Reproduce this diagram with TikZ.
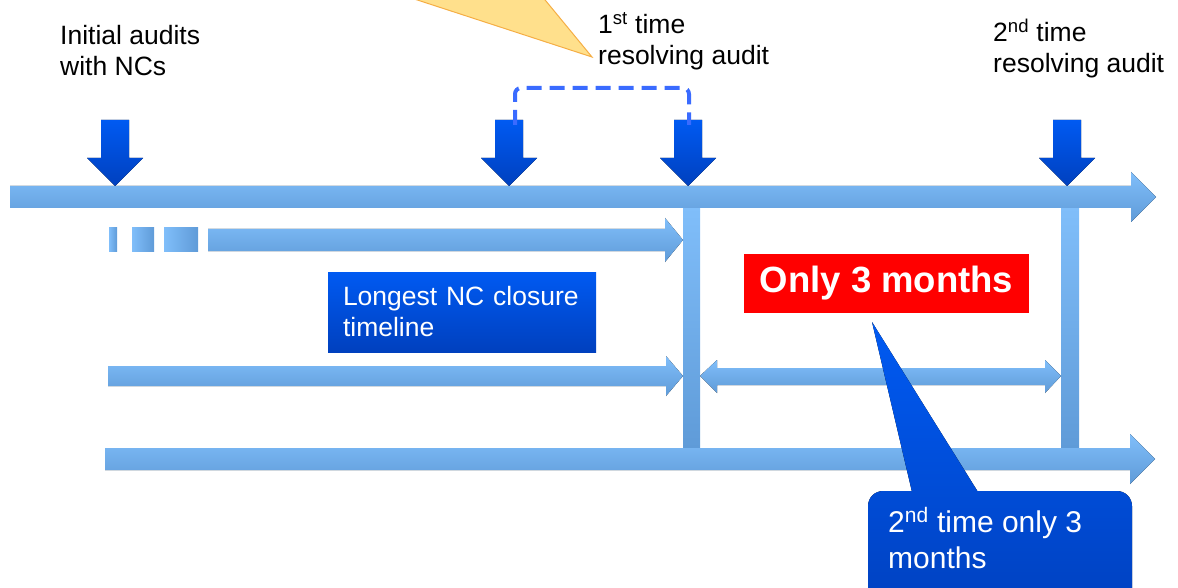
\documentclass[tikz,border=0pt]{standalone}
\usepackage{fontspec}
\setmainfont{Liberation Sans}
\usetikzlibrary{positioning}

\definecolor{barlight}{HTML}{80BEFA}
\definecolor{bardark}{HTML}{5F9BD8}
\definecolor{markhi}{HTML}{005AF2}
\definecolor{markmid}{HTML}{004CD6}
\definecolor{marklo}{HTML}{0040BE}
\definecolor{dashblue}{HTML}{3A6BFF}
\definecolor{notefill}{HTML}{FFE08C}
\definecolor{noteline}{HTML}{F5AE45}

\tikzset{
  timebar/.style={top color=barlight, bottom color=bardark, draw=none},
  gapbar/.style={left color=barlight, right color=bardark, draw=none},
  auditmark/.style={top color=markhi, bottom color=marklo, draw=none},
  audittext/.style={anchor=base west, inner sep=0pt, align=left,
    font=\fontsize{26.5}{31}\selectfont},
  longbox/.style={top color=markhi, bottom color=marklo, text=white,
    align=left, text width=238pt, inner xsep=15pt, minimum height=80pt,
    font=\fontsize{26.5}{31}\selectfont},
  redbox/.style={fill=red, text=white, inner sep=0pt, minimum width=285pt,
    minimum height=59pt, font=\bfseries\fontsize{36.5}{36}\selectfont}
}

% block arrow to the right: {x start}{x tip}{y}{shaft half}{head half}{head length}
\newcommand{\rightbar}[6]{%
  \fill[timebar] ({#1},{#3-#4}) -- ({#2-#6},{#3-#4}) -- ({#2-#6},{#3-#5}) -- ({#2},{#3})
    -- ({#2-#6},{#3+#5}) -- ({#2-#6},{#3+#4}) -- ({#1},{#3+#4}) -- cycle;}
% audit marker pointing down onto the time line
\newcommand{\dropmark}[1]{%
  \fill[auditmark] ({#1-14},120) -- ({#1+14},120) -- ({#1+14},158) -- ({#1+28},158)
    -- ({#1},186) -- ({#1-28},158) -- ({#1-14},158) -- cycle;}

\begin{document}
\begin{tikzpicture}[x=1pt, y=-1pt]
\useasboundingbox (0,0) rectangle (1178,588);

% yellow callout coming in from the top
\filldraw[fill=notefill, draw=noteline, line width=1pt] (402,-5) -- (592,57) -- (541,-5) -- cycle;

% vertical bars
\fill[timebar] (683,207) rectangle (700,448);
\fill[timebar] (1061,207) rectangle (1079,448);

% time lines
\rightbar{10}{1156}{197}{11}{25}{25}
\fill[gapbar] (109,228) rectangle (117,251);
\fill[gapbar] (132,228) rectangle (154,251);
\fill[gapbar] (164,228) rectangle (198,251);
\rightbar{208}{683}{240}{11}{22}{18}
\rightbar{108}{683}{376}{10}{20}{17}
\fill[timebar] (700,376) -- (717,360) -- (717,368) -- (1045,368) -- (1045,360) -- (1061,376)
  -- (1045,393) -- (1045,385) -- (717,385) -- (717,393) -- cycle;
\rightbar{105}{1155}{459}{11}{25}{25}

% audits
\dropmark{115}
\dropmark{509}
\dropmark{688}
\dropmark{1067}

\draw[dashblue, line width=4pt, dash pattern=on 15pt off 8pt, rounded corners=6pt]
  (515,125) -- (515,88) -- (689,88) -- (689,125);

% anchor is on the last line
\node[audittext] (initial) at (60,76) {Initial audits\\with NCs};
\node[audittext] (first) at (598,65) {1\textsuperscript{st} time\\resolving audit};
\node[audittext] (second) at (993,73) {2\textsuperscript{nd} time\\resolving audit};

\node[longbox] (longest) at (462,312) {Longest NC closure\\timeline};
\node[redbox] (only) at (886.5,283) {Only 3 months};

% blue callout
\fill[top color=markhi, bottom color=markmid] (872,322) -- (978,492) -- (912,492) -- cycle;
\fill[top color=markmid, bottom color=marklo, rounded corners=15pt] (868,491) rectangle (1132,620);
\node[audittext, text=white, font=\fontsize{30}{36}\selectfont] (again) at (888,568)
  {2\textsuperscript{nd} time only 3\\months};
\end{tikzpicture}
\end{document}
